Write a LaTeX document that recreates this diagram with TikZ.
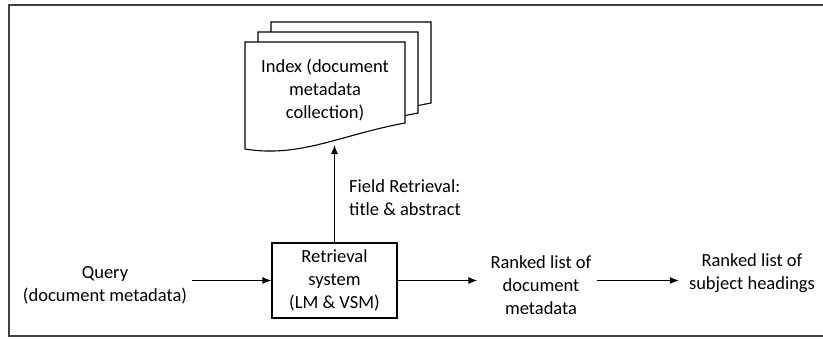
\documentclass[tikz,border=0pt]{standalone}
\usepackage{fontspec}
\setmainfont{Carlito}
\usetikzlibrary{calc,arrows.meta}

\tikzset{
  fleche/.style={-{Latex[length=9pt,width=7pt]},line width=1.1pt},
  texte/.style={align=center,inner sep=5pt,font=\fontsize{18.5}{23}\selectfont},
  boite/.style={draw,line width=1.1pt,minimum width=125pt,minimum height=75pt,
    align=center,inner sep=0pt,font=\fontsize{18.5}{23}\selectfont},
  doc/.style={draw,line width=1.1pt,fill=white}
}

\begin{document}
\begin{tikzpicture}[x=1pt,y=-1pt]

\useasboundingbox (0,0) rectangle (823,338);

% Cadre
\draw[line width=1.6pt,black!75] (9,5) rectangle (840,336);

% Index (documents empiles)
\foreach \dx/\dy in {26/-20,13/-10,0/0}
{
    \begin{scope}[shift={(\dx,\dy)}]
    \draw[doc] (245,149) -- (245,42) -- (405,42) -- (405,123)
        .. controls (340,135) and (300,158) .. (245,149) -- cycle;
    \end{scope}
}
\node[texte] (index) at (325,90) {Index (document\\metadata\\collection)};
\coordinate (idx) at (334.5,145);

% Systeme
\node[boite] (sys) at (334.5,280.5) {Retrieval\\system\\(LM \& VSM)};
\node[texte] (query) at (105,285) {Query\\(document metadata)};
\node[texte,anchor=west,align=left] (champ) at (344,198)
    {Field Retrieval:\\title \& abstract};
\node[texte] (rang1) at (541,285) {Ranked list of\\document\\metadata};
\node[texte] (rang2) at (752,273) {Ranked list of\\subject headings};

% Fleches
\draw[fleche] (query.east |- sys.west) -- (sys.west);
\draw[fleche] (sys.north) -- (idx);
\draw[fleche] (sys.east) -- ($(sys.east -| rang1.west)+(-8,0)$);
\draw[fleche] (sys.east -| rang1.east) -- ($(sys.east -| rang2.west)+(-5,0)$);

\end{tikzpicture}
\end{document}
